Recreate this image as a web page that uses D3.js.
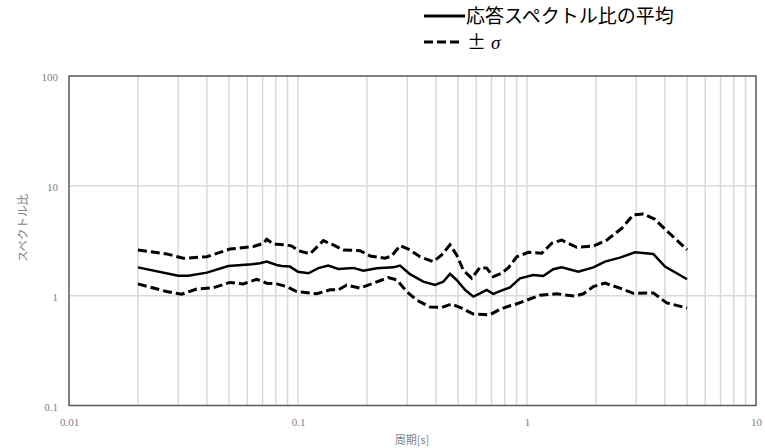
<!DOCTYPE html>
<html><head><meta charset="utf-8">
<script src="https://cdn.jsdelivr.net/npm/d3@7"></script>
<style>html,body{margin:0;padding:0;background:#fff;}svg{display:block;}</style>
</head><body>
<svg id="chart" width="765" height="448"></svg>
<script>
// ---- data ----
const meanT = [0.02,0.030,0.0332,0.040,0.0496,0.0628,0.0682,0.073,0.0807,0.0849,0.0923,0.1,0.111,0.1227,0.1356,0.150,0.1744,0.1929,0.2207,0.2608,0.2789,0.3083,0.3525,0.3966,0.431,0.461,0.493,0.536,0.583,0.6235,0.667,0.7126,0.788,0.843,0.932,1.065,1.178,1.302,1.418,1.675,1.948,2.191,2.547,2.962,3.56,4.005,4.505,5.0];
const meanV = [1.81,1.52,1.52,1.62,1.86,1.93,1.97,2.04,1.90,1.86,1.84,1.65,1.60,1.78,1.88,1.75,1.79,1.69,1.78,1.81,1.88,1.57,1.34,1.25,1.34,1.58,1.39,1.13,0.98,1.05,1.13,1.04,1.13,1.19,1.44,1.54,1.51,1.74,1.81,1.65,1.81,2.04,2.22,2.48,2.40,1.84,1.60,1.41];

const upperT = [0.02,0.0267,0.0316,0.040,0.0505,0.0638,0.0706,0.073,0.078,0.0807,0.0893,0.0939,0.1003,0.1128,0.129,0.1426,0.1577,0.1865,0.2063,0.2399,0.2566,0.2789,0.3083,0.341,0.3898,0.4242,0.461,0.493,0.527,0.5735,0.6235,0.667,0.7126,0.7754,0.83,0.902,1.013,1.16,1.282,1.418,1.648,1.948,2.228,2.591,2.912,3.22,3.62,4.005,4.505,5.0];
const upperV = [2.61,2.40,2.19,2.26,2.66,2.80,3.0,3.26,2.95,2.94,2.90,2.83,2.57,2.40,3.17,2.90,2.61,2.57,2.30,2.19,2.30,2.85,2.61,2.26,2.04,2.35,2.90,2.35,1.71,1.44,1.81,1.78,1.49,1.60,1.80,2.26,2.48,2.43,3.0,3.2,2.76,2.83,3.2,4.1,5.43,5.55,4.96,4.03,3.21,2.61];

const lowerT = [0.02,0.0267,0.031,0.0361,0.0427,0.0505,0.0577,0.066,0.073,0.0807,0.0893,0.0987,0.1207,0.138,0.150,0.1632,0.1865,0.2132,0.248,0.270,0.2984,0.330,0.377,0.4242,0.469,0.5187,0.583,0.689,0.762,0.843,0.871,0.997,1.14,1.348,1.62,1.762,1.948,2.191,2.547,2.912,3.56,4.074,5.0];
const lowerV = [1.28,1.09,1.03,1.15,1.18,1.32,1.28,1.41,1.30,1.28,1.21,1.09,1.04,1.13,1.13,1.25,1.17,1.30,1.46,1.39,1.09,0.91,0.79,0.78,0.84,0.77,0.68,0.67,0.75,0.81,0.82,0.91,1.01,1.04,0.99,1.04,1.21,1.30,1.17,1.05,1.06,0.86,0.77];

const xTicks = [0.01, 0.1, 1, 10];
const xTickLabels = ["0.01", "0.1", "1", "10"];
const yTicks = [0.1, 1, 10, 100];
const yTickLabels = ["0.1", "1", "10", "100"];
const xTitle = "周期[s]";
const yTitle = "スペクトル比";
const legendMean = "応答スペクトル比の平均";
const legendPM = "±";
const legendSigma = "σ";

// ---- layout ----
const svg = d3.select("#chart");
const pL = 69, pR = 756, pT = 76, pB = 405.5;
const x = d3.scaleLog().domain([0.01, 10]).range([pL, pR]);
const y = d3.scaleLog().domain([0.1, 100]).range([pB, pT]);

const grid = "#d9d9d9";
// vertical gridlines: every 1..9 in each decade
const vGrid = [];
[0.01, 0.1, 1].forEach(d => { for (let k = 1; k <= 9; k++) vGrid.push(+(d * k).toPrecision(3)); });
svg.append("g").selectAll("line").data(vGrid.filter(v => v > 0.01)).join("line")
  .attr("x1", d => x(d)).attr("x2", d => x(d)).attr("y1", pT).attr("y2", pB)
  .attr("stroke", grid).attr("stroke-width", 1.5);
svg.append("g").selectAll("line").data([1, 10]).join("line")
  .attr("x1", pL).attr("x2", pR).attr("y1", d => y(d)).attr("y2", d => y(d))
  .attr("stroke", grid).attr("stroke-width", 1.5);

// frame
svg.append("rect").attr("x", pL).attr("y", pT).attr("width", pR - pL).attr("height", pB - pT)
  .attr("fill", "none").attr("stroke", "#595959").attr("stroke-width", 1.5);

// axes labels via d3 axes
const xAxis = d3.axisBottom(x).tickValues(xTicks).tickFormat((d, i) => xTickLabels[i]).tickSize(0).tickPadding(13);
const gx = svg.append("g").attr("transform", `translate(0,${pB})`).call(xAxis);
gx.select(".domain").remove();
gx.selectAll("text").attr("fill", "#7f7f7f").attr("font-size", 11).attr("font-family", "Liberation Serif, serif");

const yAxis = d3.axisLeft(y).tickValues(yTicks).tickFormat((d, i) => yTickLabels[i]).tickSize(0).tickPadding(11);
const gy = svg.append("g").attr("transform", `translate(${pL},1)`).call(yAxis);
gy.select(".domain").remove();
gy.selectAll("text").attr("fill", "#7f7f7f").attr("font-size", 11).attr("font-family", "Liberation Serif, serif");

svg.append("text").attr("x", 412).attr("y", 444).attr("text-anchor", "middle")
  .attr("font-size", 11).attr("fill", "#7f7f7f").attr("font-family", "Noto Sans CJK JP").text(xTitle);
svg.append("text").attr("transform", "translate(27,228) rotate(-90)").attr("text-anchor", "middle")
  .attr("font-size", 11.5).attr("fill", "#7f7f7f").attr("font-family", "Noto Sans CJK JP").text(yTitle);

// series
const line = d3.line().x(d => x(d[0])).y(d => y(d[1]));
const zip = (a, b) => a.map((t, i) => [t, b[i]]);
svg.append("path").datum(zip(upperT, upperV)).attr("d", line).attr("fill", "none")
  .attr("stroke", "#000").attr("stroke-width", 3).attr("stroke-dasharray", "9,4");
svg.append("path").datum(zip(lowerT, lowerV)).attr("d", line).attr("fill", "none")
  .attr("stroke", "#000").attr("stroke-width", 3).attr("stroke-dasharray", "9,4");
svg.append("path").datum(zip(meanT, meanV)).attr("d", line).attr("fill", "none")
  .attr("stroke", "#000").attr("stroke-width", 2.5);

// legend
const lg = svg.append("g");
lg.append("line").attr("x1", 424).attr("x2", 465).attr("y1", 16).attr("y2", 16).attr("stroke", "#000").attr("stroke-width", 3);
lg.append("text").attr("x", 466).attr("y", 23).attr("font-size", 19).attr("font-family", "Noto Sans CJK JP").attr("fill", "#000").text(legendMean);
lg.append("line").attr("x1", 424).attr("x2", 461).attr("y1", 42).attr("y2", 42).attr("stroke", "#000").attr("stroke-width", 3).attr("stroke-dasharray", "9,4");
lg.append("text").attr("x", 467).attr("y", 49).attr("font-size", 19).attr("font-family", "Noto Sans CJK JP").attr("fill", "#000").text(legendPM);
lg.append("text").attr("x", 491).attr("y", 49).attr("font-size", 19).attr("font-style", "italic").attr("font-family", "Liberation Serif, serif").attr("fill", "#000").text(legendSigma);
</script>
</body></html>
